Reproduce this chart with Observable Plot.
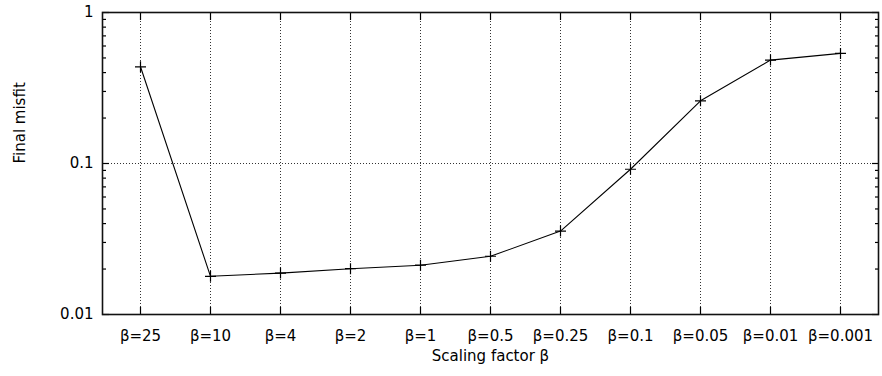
<!DOCTYPE html>
<html>
<head>
<meta charset="utf-8">
<script src="https://cdn.jsdelivr.net/npm/d3@7"></script>
<script src="https://cdn.jsdelivr.net/npm/@observablehq/plot@0.6"></script>
<style>
  html, body { margin: 0; padding: 0; background: #fff; }
</style>
</head>
<body>
<div id="chart"></div>
<script>
const betaLabels = ["β=25", "β=10", "β=4", "β=2", "β=1", "β=0.5", "β=0.25", "β=0.1", "β=0.05", "β=0.01", "β=0.001"];
const misfitValues = [0.437, 0.0179, 0.0188, 0.0201, 0.0212, 0.0243, 0.0357, 0.0916, 0.260, 0.484, 0.536];
const yMajorTicks = [0.01, 0.1, 1];
const yMinorTicks = [0.02, 0.03, 0.04, 0.05, 0.06, 0.07, 0.08, 0.09, 0.2, 0.3, 0.4, 0.5, 0.6, 0.7, 0.8, 0.9];
const yTickLabels = ["0.01", "0.1", "1"];
const xTitle = "Scaling factor β";
const yTitle = "Final misfit";

const data = betaLabels.map((b, i) => ({beta: b, misfit: misfitValues[i]}));

const plusSymbol = {
  draw(context, size) {
    const r = 5.5;
    context.moveTo(-r, 0); context.lineTo(r, 0);
    context.moveTo(0, -r); context.lineTo(0, r);
  }
};

const gridStyle = {stroke: "#333", strokeWidth: 1, strokeDasharray: "1,2", strokeOpacity: 1};
const FS = 15;

const chart = Plot.plot({
  width: 882,
  height: 376,
  marginLeft: 102,
  marginRight: 4,
  marginTop: 12,
  marginBottom: 62,
  style: {fontFamily: "'DejaVu Sans', sans-serif", fontSize: FS + "px", color: "#000", background: "#fff"},
  x: {type: "point", domain: betaLabels, padding: 0.5, label: null},
  y: {type: "log", domain: [0.01, 1], label: null},
  marks: [
    Plot.ruleX(betaLabels, {...gridStyle}),
    Plot.ruleY([0.1], {...gridStyle}),
    Plot.axisX({anchor: "bottom", tickSize: -7, tickFormat: () => "", label: null, stroke: "#000", strokeWidth: 1.2}),
    Plot.axisX({anchor: "top", tickSize: -7, tickFormat: () => "", label: null, stroke: "#000", strokeWidth: 1.2}),
    Plot.axisX({anchor: "bottom", tickSize: 0, tickPadding: 16, label: null, fontSize: FS, fill: "#000"}),
    Plot.axisY({anchor: "left", ticks: yMajorTicks, tickSize: -7, tickFormat: () => "", label: null, strokeWidth: 1.2}),
    Plot.axisY({anchor: "right", ticks: yMajorTicks, tickSize: -7, tickFormat: () => "", label: null, strokeWidth: 1.2}),
    Plot.axisY({anchor: "left", ticks: yMinorTicks, tickSize: -4, tickFormat: () => "", label: null, strokeWidth: 1.2}),
    Plot.axisY({anchor: "right", ticks: yMinorTicks, tickSize: -4, tickFormat: () => "", label: null, strokeWidth: 1.2}),
    Plot.axisY({anchor: "left", ticks: yMajorTicks, tickSize: 0, tickPadding: 9, label: null,
      tickFormat: (d) => yTickLabels[yMajorTicks.indexOf(d)], fontSize: FS, fill: "#000"}),
    Plot.frame({stroke: "#111", strokeWidth: 1.6}),
    Plot.line(data, {x: "beta", y: "misfit", stroke: "#000", strokeWidth: 1.1}),
    Plot.dot(data, {x: "beta", y: "misfit", symbol: plusSymbol, stroke: "#000", strokeWidth: 1.2, fill: "none", r: 5.5}),
    Plot.text([xTitle], {text: d => d, frameAnchor: "bottom", dy: 46, fontSize: FS, fill: "#000"}),
    Plot.text([yTitle], {text: d => d, frameAnchor: "left", dx: -82, rotate: -90, fontSize: FS, fill: "#000"})
  ]
});

document.getElementById("chart").appendChild(chart);
</script>
</body>
</html>
